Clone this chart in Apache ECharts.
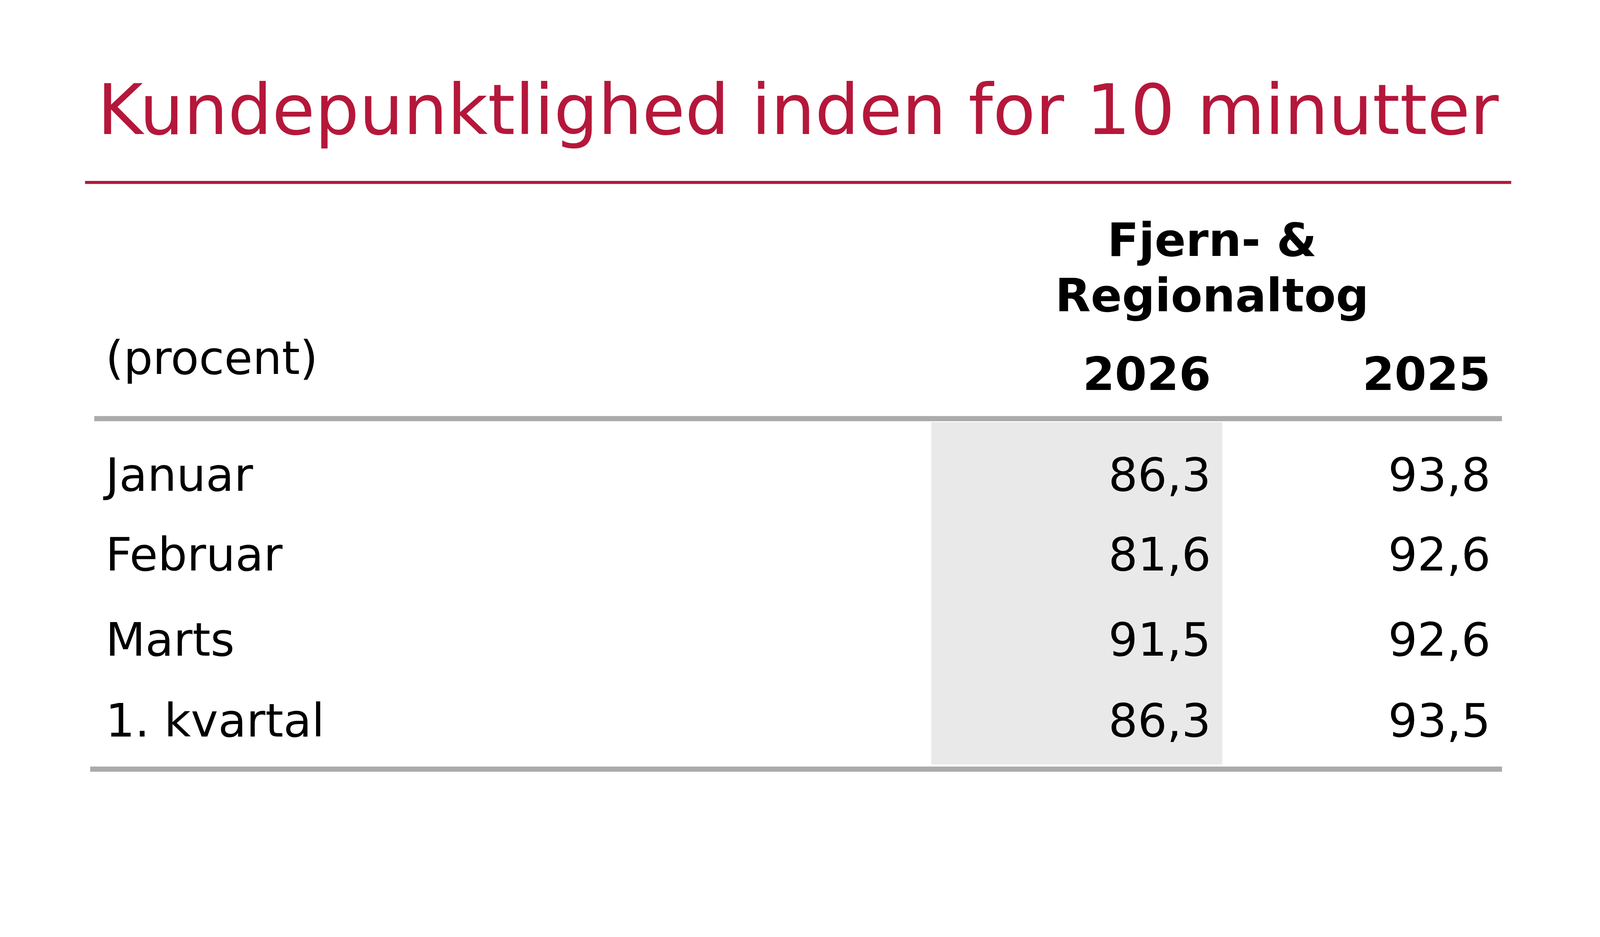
<!DOCTYPE html>
<html><head><meta charset="utf-8">
<script src="https://cdn.jsdelivr.net/npm/echarts@6/dist/echarts.min.js"></script>
<style>html,body{margin:0;padding:0;background:#fff}#c{width:4447px;height:2398px}</style>
</head><body><div id="c"></div>
<script>
const title = 'Kundepunktlighed inden for 10 minutter';
const headerGroup = ['Fjern- &', 'Regionaltog'];
const unitLabel = '(procent)';
const years = ['2026', '2025'];
const categories = ['Januar', 'Februar', 'Marts', '1. kvartal'];
const values2026 = [86.3, 81.6, 91.5, 86.3];
const values2025 = [93.8, 92.6, 92.6, 93.5];

const S = 4447 / 1548 * 0.913;
const p = v => v * S;
const fmt = v => v.toFixed(1).replace('.', ',');
const font = '"DejaVu Sans", Verdana, sans-serif';
const rowY = [467, 545, 628, 707];
const colX = [1182, 1455];
const g = [];
function txt(t, x, y, size, opts = {}) {
  g.push({type: 'text', x: p(x), y: p(y), style: Object.assign({
    text: t, font: (opts.bold ? 'bold ' : '') + p(size) + 'px ' + font,
    fill: opts.fill || '#000', textAlign: opts.align || 'left', textVerticalAlign: 'middle'
  })});
}
g.push({type: 'rect', shape: {x: p(909), y: p(412), width: p(284), height: p(334)}, style: {fill: '#e9e9e9'}});
txt(title, 95, 113, 68, {fill: '#b5173a'});
g.push({type: 'rect', shape: {x: p(83), y: p(176.5), width: p(1392), height: p(3)}, style: {fill: '#b5173a'}});
txt(headerGroup[0], 1183, 238, 45, {bold: true, align: 'center'});
txt(headerGroup[1], 1183, 292, 45, {bold: true, align: 'center'});
txt(unitLabel, 103, 353, 45);
years.forEach((y, i) => txt(y, colX[i], 369, 45, {bold: true, align: 'right'}));
g.push({type: 'rect', shape: {x: p(92), y: p(406), width: p(1374), height: p(5)}, style: {fill: '#ababab'}});
categories.forEach((c, i) => {
  txt(c, 103, rowY[i], 45);
  txt(fmt(values2026[i]), colX[0], rowY[i], 45, {align: 'right'});
  txt(fmt(values2025[i]), colX[1], rowY[i], 45, {align: 'right'});
});
g.push({type: 'rect', shape: {x: p(88), y: p(748), width: p(1378), height: p(5)}, style: {fill: '#ababab'}});
const chart = echarts.init(document.getElementById('c'));
chart.setOption({backgroundColor: '#fff', graphic: g});
</script></body></html>
